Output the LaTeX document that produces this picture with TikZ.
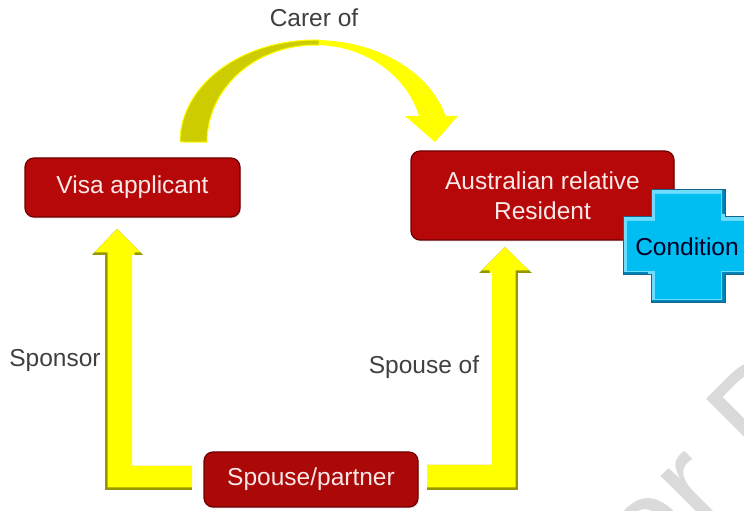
\documentclass[tikz,border=0pt]{standalone}
\usepackage{fontspec}
\setmainfont{Liberation Sans}
\usetikzlibrary{shadows}

\definecolor{boxred}{RGB}{182,8,8}
\definecolor{boxedge}{RGB}{112,0,0}
\definecolor{boxtext}{RGB}{250,232,232}
\definecolor{arrowyellow}{RGB}{255,255,0}
\definecolor{arrowolive}{RGB}{204,204,0}
\definecolor{arrowshade}{RGB}{150,150,0}
\definecolor{labelgray}{RGB}{64,64,64}
\definecolor{crossmain}{RGB}{0,190,242}
\definecolor{crosslight}{RGB}{110,220,255}
\definecolor{crossdark}{RGB}{0,130,180}
\definecolor{crossedge}{RGB}{20,100,140}
\definecolor{markgray}{RGB}{218,218,218}

\tikzset{
  redbox/.style={rounded corners=9pt, fill=boxred, draw=boxedge, line width=1.2pt,
    text=boxtext, font=\fontsize{24.5}{29.5}\selectfont, align=center, inner sep=0pt,
    drop shadow={shadow xshift=1pt, shadow yshift=-1.5pt, opacity=0.25}},
  edgelabel/.style={text=labelgray, font=\fontsize{24.5}{29.5}\selectfont, inner sep=0pt},
}

\begin{document}
\begin{tikzpicture}[x=1pt,y=1pt]
\useasboundingbox (0,0) rectangle (744,511);

% faint watermark lettering
\node[rotate=45, anchor=base west, text=markgray, inner sep=0pt,
      font=\fontsize{140}{140}\selectfont] (mark) at (651,-80) {or D};

% curved "carer of" arrow: back side of the band
\fill[arrowolive, draw=arrowyellow, line width=1pt]
  (180,369) arc[start angle=180, end angle=88, x radius=135, y radius=102]
  -- (318.8,465.9) arc[start angle=88, end angle=180, x radius=108, y radius=97] -- cycle;
% front side of the band with its head
\fill[arrowyellow]
  (319.7,470.9) arc[start angle=88, end angle=14.8, x radius=135, y radius=102]
  -- (458,395) -- (435,369) -- (405,395) -- (419.1,394.9)
  arc[start angle=15.5, end angle=88, x radius=108, y radius=97] -- cycle;

% L-shaped arrows with an inner shade
\def\leftL{(117,282) -- (143,256) -- (132,256) -- (132,45) -- (192,45) -- (192,21)
  -- (105,21) -- (105,256) -- (92,256) -- cycle}
\def\rightL{(505,264) -- (532,238) -- (518,238) -- (518,21) -- (427,21) -- (427,46)
  -- (492,46) -- (492,238) -- (479,238) -- cycle}
\begin{scope}
  \clip \leftL;
  \fill[arrowshade] \leftL;
  \fill[arrowyellow, shift={(2.5,2.5)}] \leftL;
\end{scope}
\begin{scope}
  \clip \rightL;
  \fill[arrowshade] \rightL;
  \fill[arrowyellow, shift={(-2.5,2.5)}] \rightL;
\end{scope}

% boxes
\node[redbox, minimum width=215pt, minimum height=59pt] (visa) at (132.5,323.5) {Visa applicant};
\node[redbox, minimum width=263pt, minimum height=89pt] (aus) at (542.5,315.5)
  {Australian relative\\Resident};
\node[redbox, fill=boxred!94!black, minimum width=214pt, minimum height=55pt] (spouse) at (311,31.5)
  {Spouse/partner};

% bevelled cross
\def\crossout{(651,321) -- (725,321) -- (725,294) -- (753,294) -- (753,236) -- (725,236)
  -- (725,208) -- (651,208) -- (651,236) -- (623,236) -- (623,294) -- (651,294) -- cycle}
\def\crossin{(655,317) -- (721,317) -- (721,290) -- (749,290) -- (749,240) -- (721,240)
  -- (721,212) -- (655,212) -- (655,240) -- (627,240) -- (627,290) -- (655,290) -- cycle}
\begin{scope}
  \clip \crossout;
  \fill[crossdark] \crossout;
  \fill[crosslight, shift={(-3,3)}] \crossout;
\end{scope}
\fill[crossmain] \crossin;
\draw[crossedge, line width=1pt] \crossout;
\node[text=black!85!blue, font=\fontsize{24.5}{29.5}\selectfont, inner sep=0pt] (cond) at (687,264) {Condition};

% relation labels
\node[edgelabel] (carer) at (314,493) {Carer of};
\node[edgelabel] (sponsor) at (55,151) {Sponsor};
\node[edgelabel] (spouseof) at (424,144) {Spouse of};
\end{tikzpicture}
\end{document}
